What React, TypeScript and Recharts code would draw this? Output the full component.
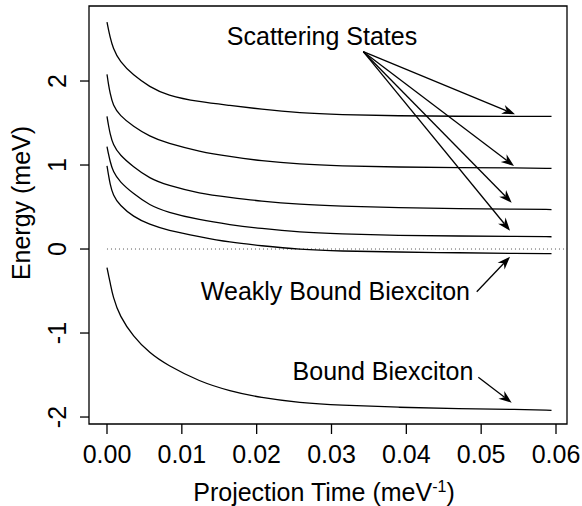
import React from 'react';
import { LineChart, Line, XAxis, YAxis, ReferenceLine, ReferenceArea, ReferenceDot } from 'recharts';

// Projection time (meV^-1)
const projTime = [0, 0.0002, 0.0004, 0.0008, 0.0017, 0.0035, 0.0057, 0.008, 0.0124, 0.0164, 0.0205, 0.0258, 0.031, 0.039, 0.047, 0.055, 0.0594];
// Energy (meV) of each state
const scatter1 = [2.70, 2.61, 2.53, 2.39, 2.23, 2.07, 1.93, 1.83, 1.75, 1.71, 1.665, 1.62, 1.60, 1.585, 1.58, 1.58, 1.58];
const scatter2 = [2.08, 1.96, 1.86, 1.71, 1.59, 1.46, 1.34, 1.26, 1.16, 1.10, 1.05, 1.01, 0.99, 0.975, 0.97, 0.965, 0.96];
const scatter3 = [1.58, 1.47, 1.38, 1.24, 1.12, 0.98, 0.84, 0.76, 0.66, 0.615, 0.57, 0.53, 0.51, 0.49, 0.48, 0.475, 0.47];
const scatter4 = [1.22, 1.13, 1.05, 0.92, 0.80, 0.66, 0.52, 0.44, 0.345, 0.29, 0.245, 0.20, 0.18, 0.16, 0.155, 0.15, 0.146];
const weaklyBound = [0.99, 0.88, 0.78, 0.64, 0.52, 0.385, 0.29, 0.226, 0.146, 0.08, 0.04, -0.005, -0.025, -0.036, -0.045, -0.052, -0.056];
const bound = [-0.22, -0.31, -0.39, -0.57, -0.80, -1.04, -1.24, -1.38, -1.58, -1.69, -1.77, -1.83, -1.86, -1.885, -1.90, -1.91, -1.92];

const xTicks = [0, 0.01, 0.02, 0.03, 0.04, 0.05, 0.06];
const yTicks = [-2, -1, 0, 1, 2];

// Annotation texts (data coordinates)
const annotationTexts = [
  { text: 'Scattering States', x: 0.02873, y: 2.429, anchor: 'middle' },
  { text: 'Weakly Bound Biexciton', x: 0.04851, y: -0.607, anchor: 'end' },
  { text: 'Bound Biexciton', x: 0.04895, y: -1.56, anchor: 'end' },
];
// Arrows (from, to) in data coordinates
const arrows = [
  { x1: 0.03425, y1: 2.349, x2: 0.05452, y2: 1.604 },
  { x1: 0.03425, y1: 2.349, x2: 0.05439, y2: 0.988 },
  { x1: 0.03425, y1: 2.349, x2: 0.05408, y2: 0.551 },
  { x1: 0.03425, y1: 2.349, x2: 0.05386, y2: 0.218 },
  { x1: 0.04941, y1: -0.508, x2: 0.05386, y2: -0.092 },
  { x1: 0.04962, y1: -1.527, x2: 0.05408, y2: -1.83 },
];

const data = projTime.map((x, i) => ({
  x,
  s1: scatter1[i],
  s2: scatter2[i],
  s3: scatter3[i],
  s4: scatter4[i],
  wb: weaklyBound[i],
  b: bound[i],
}));

const FONT = 'Liberation Sans, Arial, Helvetica, sans-serif';
const FS = 25;

const ArrowShape = (p: any) => {
  const { x1, y1, x2, y2 } = p;
  const ang = Math.atan2(y2 - y1, x2 - x1);
  const ux = Math.cos(ang), uy = Math.sin(ang);
  const nx = -uy, ny = ux;
  const L = 13, W = 4.8, N = 9;
  const bx = x2 - L * ux, by = y2 - L * uy;
  const mx = x2 - N * ux, my = y2 - N * uy;
  const pts = `${x2},${y2} ${bx + W * nx},${by + W * ny} ${mx},${my} ${bx - W * nx},${by - W * ny}`;
  return (
    <g>
      <line x1={x1} y1={y1} x2={mx} y2={my} stroke="#000" strokeWidth={1.3} />
      <polygon points={pts} fill="#000" stroke="none" />
    </g>
  );
};

const YTick = (p: any) => {
  const { x, y, payload } = p;
  return (
    <text x={x} y={y} transform={`rotate(-90, ${x}, ${y})`} textAnchor="middle" fontSize={FS} fontFamily={FONT} fill="#000">
      {String(payload.value)}
    </text>
  );
};

const XTitle = (p: any) => {
  const vb = p.viewBox || { x: 89, y: 424, width: 478, height: 82 };
  const cx = vb.x + vb.width / 2 - 4;
  return (
    <text x={cx} y={501} textAnchor="middle" fontSize={FS} fontFamily={FONT} fill="#000">
      Projection Time (meV
      <tspan fontSize={16} dy={-9}>-1</tspan>
      <tspan dy={9}>)</tspan>
    </text>
  );
};

const YTitle = () => (
  <text x={30} y={203} transform="rotate(-90, 30, 203)" textAnchor="middle" fontSize={FS} fontFamily={FONT} fill="#000">
    Energy (meV)
  </text>
);

export default function App() {
  const series = ['s1', 's2', 's3', 's4', 'wb', 'b'];
  return (
    <div style={{ position: 'absolute', left: 0, top: 0, background: '#fff' }}>
      <LineChart width={582} height={506} data={data} margin={{ top: 6, right: 15, bottom: 0, left: 0 }}>
        <XAxis
          type="number"
          dataKey="x"
          domain={[-0.002405, 0.06147]}
          ticks={xTicks}
          allowDataOverflow
          height={82}
          tickSize={10}
          tickMargin={11}
          axisLine={false}
          tickLine={{ stroke: '#000', strokeWidth: 1.3 }}
          tick={{ fill: '#000', fontSize: FS, fontFamily: FONT }}
          tickFormatter={(v: number) => v.toFixed(2)}
          label={XTitle}
        />
        <YAxis
          type="number"
          domain={[-2.083, 2.893]}
          ticks={yTicks}
          allowDataOverflow
          width={89}
          tickSize={9}
          tickMargin={14}
          axisLine={false}
          tickLine={{ stroke: '#000', strokeWidth: 1.3 }}
          tick={YTick}
          label={YTitle}
        />
        <ReferenceLine
          segment={[{ x: 0, y: 0 }, { x: 0.0615, y: 0 }]}
          stroke="#555"
          strokeWidth={1}
          strokeDasharray="1 3"
          ifOverflow="visible"
        />
        {series.map((k) => (
          <Line
            key={k}
            dataKey={k}
            type="basis"
            stroke="#000"
            strokeWidth={1.3}
            dot={false}
            activeDot={false}
            isAnimationActive={false}
          />
        ))}
        {arrows.map((a, i) => (
          <ReferenceLine
            key={'ar' + i}
            segment={[{ x: a.x1, y: a.y1 }, { x: a.x2, y: a.y2 }]}
            shape={ArrowShape}
            ifOverflow="visible"
          />
        ))}
        {annotationTexts.map((t, i) => (
          <ReferenceDot
            key={'t' + i}
            x={t.x}
            y={t.y}
            r={0}
            ifOverflow="visible"
            shape={(p: any) => (
              <text x={p.cx} y={p.cy} textAnchor={t.anchor as any} fontSize={FS} fontFamily={FONT} fill="#000">
                {t.text}
              </text>
            )}
          />
        ))}
        <ReferenceArea
          x1={-0.002405}
          x2={0.06147}
          y1={-2.083}
          y2={2.893}
          fill="none"
          stroke="#000"
          strokeWidth={1.3}
          ifOverflow="visible"
        />
      </LineChart>
    </div>
  );
}
